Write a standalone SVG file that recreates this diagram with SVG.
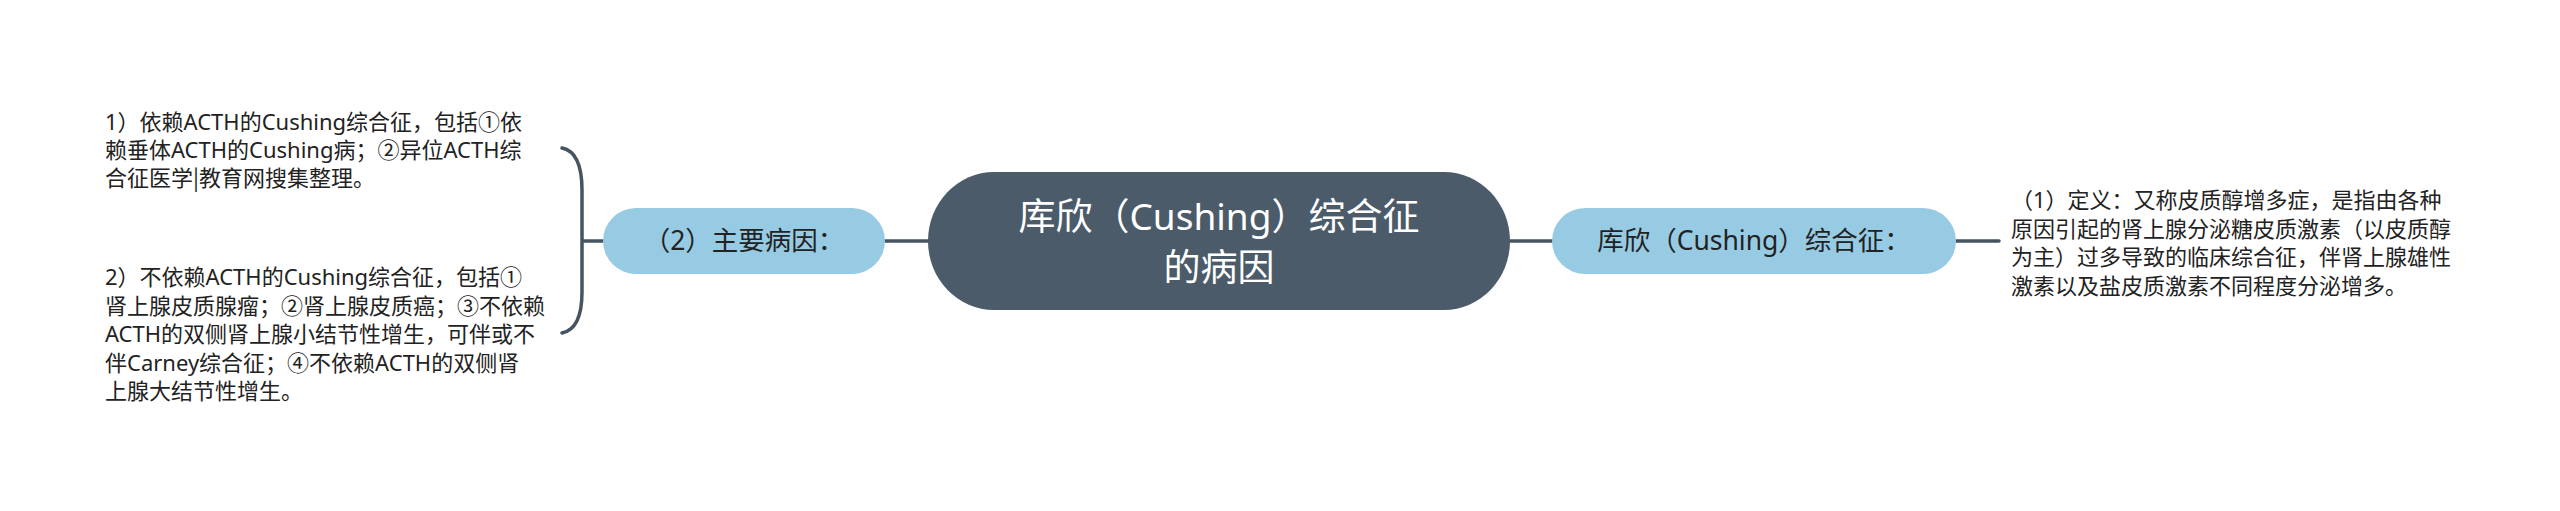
<svg xmlns="http://www.w3.org/2000/svg" width="2560" height="511" viewBox="0 0 2560 511">
<style>
  text { font-family: "Noto Sans", "Noto Sans CJK SC", sans-serif; }
  .cjk { font-family: "Noto Sans CJK SC", sans-serif; }
  .conn { fill: none; stroke: #46545f; stroke-width: 3.5; stroke-linecap: round; }
  .main { fill: #4b5b69; }
  .sub { fill: #97cbe3; }
  .mainText { fill: #ffffff; font-size: 37px; text-anchor: middle; }
  .subText { fill: #222222; font-size: 26.5px; text-anchor: middle; }
  .leaf { fill: #222222; font-size: 22px; }
</style>
<rect width="2560" height="511" fill="#ffffff"/>
<g id="connectors">
  <line class="conn" x1="885" y1="241" x2="928" y2="241"/>
  <line class="conn" x1="1510" y1="241" x2="1552" y2="241"/>
  <line class="conn" x1="1956" y1="241" x2="1999" y2="241"/>
  <line class="conn" x1="583" y1="241" x2="603" y2="241"/>
  <path class="conn" d="M562,148 Q582,152 582,190 L582,292 Q582,329 562,333"/>
</g>
<g id="node-center">
  <rect class="main" x="928" y="172" width="582" height="138" rx="66" ry="69"/>
  <text class="mainText" x="1219" y="230">库欣（Cushing）综合征</text>
  <text class="mainText" x="1219" y="281">的病因</text>
</g>
<g id="node-right">
  <rect class="sub" x="1552" y="208" width="404" height="66" rx="33"/>
  <text class="subText" x="1754" y="250">库欣（Cushing）综合征：</text>
</g>
<g id="node-left">
  <rect class="sub" x="603" y="208" width="282" height="66" rx="33"/>
  <text class="subText" x="744" y="250">（2）主要病因：</text>
</g>
<g id="leaf-right">
  <text class="leaf" x="2011" y="208">（1）定义：又称皮质醇增多症，是指由各种</text>
  <text class="leaf" x="2011" y="236.5">原因引起的肾上腺分泌糖皮质激素（以皮质醇</text>
  <text class="leaf" x="2011" y="265">为主）过多导致的临床综合征，伴肾上腺雄性</text>
  <text class="leaf" x="2011" y="293.5">激素以及盐皮质激素不同程度分泌增多。</text>
</g>
<g id="leaf-left-1">
  <text class="leaf" x="105" y="130">1）依赖ACTH的Cushing综合征，包括①依</text>
  <text class="leaf" x="105" y="158">赖垂体ACTH的Cushing病；②异位ACTH综</text>
  <text class="leaf cjk" x="105" y="186">合征医学|教育网搜集整理。</text>
</g>
<g id="leaf-left-2">
  <text class="leaf" x="105" y="285">2）不依赖ACTH的Cushing综合征，包括①</text>
  <text class="leaf" x="105" y="313.5">肾上腺皮质腺瘤；②肾上腺皮质癌；③不依赖</text>
  <text class="leaf" x="105" y="342">ACTH的双侧肾上腺小结节性增生，可伴或不</text>
  <text class="leaf" x="105" y="370.5">伴Carney综合征；④不依赖ACTH的双侧肾</text>
  <text class="leaf" x="105" y="399">上腺大结节性增生。</text>
</g>
</svg>
